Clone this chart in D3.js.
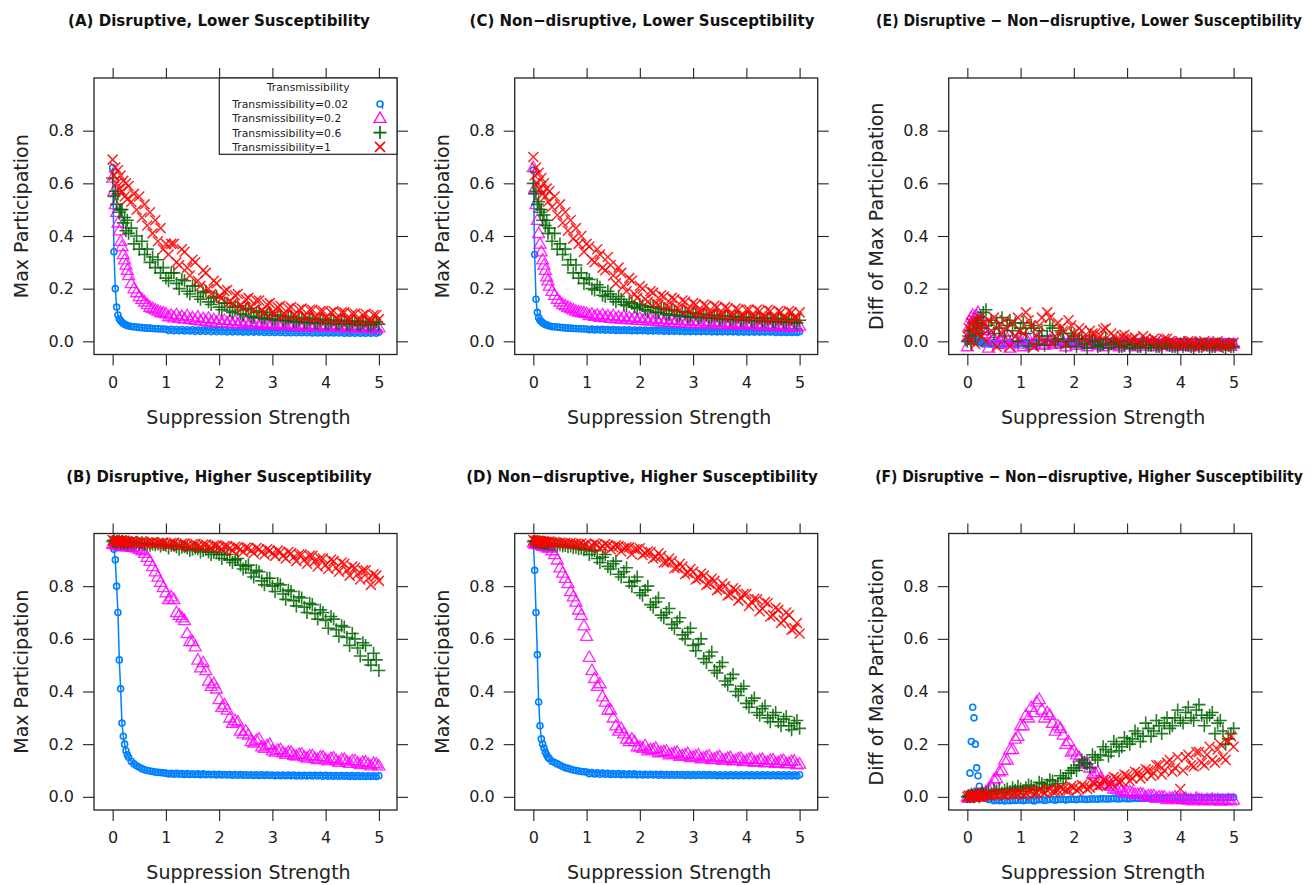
<!DOCTYPE html>
<meta charset="utf-8">
<title>Max Participation vs Suppression Strength</title>
<script src="https://d3js.org/d3.v7.min.js"></script>
<style>
  body { margin: 0; background: #fff; }
  text { font-family: "DejaVu Sans", Verdana, sans-serif; fill: #222; }
  text.title { font-weight: bold; font-size: 16px; fill: #111; }
  text.axlab { font-size: 19px; }
  text.legend { font-size: 10.8px; }
</style>
<div id="chart"></div>
<script>

// suppression strength grid (x) for the first run, finer near zero
var suppression = [0,.025,.05,.075,.1,.125,.15,.175,.2,.225,.25,.275,.3,
  .35,.4,.45,.5,.55,.6,.65,.7,.75,.8,.85,.9,.95,1,
  1.1,1.2,1.3,1.4,1.5,1.6,1.7,1.8,1.9,2,
  2.1,2.2,2.3,2.4,2.5,2.6,2.7,2.8,2.9,3,
  3.1,3.2,3.3,3.4,3.5,3.6,3.7,3.8,3.9,4,
  4.1,4.2,4.3,4.4,4.5,4.6,4.7,4.8,4.9,5];
// second run, in between the first run's steps
var suppressionMid = [1.05,1.15,1.25,1.35,1.45,1.55,1.65,1.75,1.85,1.95,
  2.05,2.15,2.25,2.35,2.45,2.55,2.65,2.75,2.85,2.95,
  3.05,3.15,3.25,3.35,3.45,3.55,3.65,3.75,3.85,3.95,
  4.05,4.15,4.25,4.35,4.45,4.55,4.65,4.75,4.85,4.95];

var xTicks = [0,1,2,3,4,5];
var yTicks = [0,0.2,0.4,0.6,0.8];
var transLabels = ["Transmissibility=0.02","Transmissibility=0.2","Transmissibility=0.6","Transmissibility=1"];
var titles = ["(A) Disruptive, Lower Susceptibility",
              "(C) Non\u2212disruptive, Lower Susceptibility",
              "(E) Disruptive \u2212 Non\u2212disruptive, Lower Susceptibility",
              "(B) Disruptive, Higher Susceptibility",
              "(D) Non\u2212disruptive, Higher Susceptibility",
              "(F) Disruptive \u2212 Non\u2212disruptive, Higher Susceptibility"];

// (A) disruptive, lower susceptibility
var blueA = [.66,.34,.20,.13,.10,.085,.078,.072,.068,.065,.062,.060,.058,
  .056,.055,.054,.053,.052,.051,.050,.050,.049,.048,.048,.047,.047,.046,
  .046,.045,.045,.044,.044,.043,.043,.043,.042,.042,
  .042,.041,.041,.041,.040,.040,.040,.040,.039,.039,
  .039,.039,.038,.038,.038,.038,.038,.037,.037,.037,
  .037,.037,.037,.036,.036,.036,.036,.036,.036,.035];
var magentaA = [.62,.57,.52,.49,.45,.42,.38,.36,.33,.31,.29,.27,.25,
  .22,.20,.185,.17,.16,.15,.14,.13,.125,.12,.115,.11,.108,.105,
  .10,.102,.095,.098,.09,.093,.087,.088,.083,.082,
  .08,.079,.077,.076,.074,.073,.072,.070,.069,.068,
  .067,.066,.066,.064,.064,.063,.062,.062,.061,.060,
  .060,.059,.058,.058,.057,.056,.056,.055,.054,.052];
var greenA = [.62,.55,.57,.52,.56,.49,.50,.50,.45,.47,.42,.46,.41,
  .43,.37,.40,.35,.38,.33,.35,.30,.32,.28,.31,.26,.28,.24,
  .26,.22,.235,.19,.21,.17,.185,.15,.165,.13,
  .145,.115,.13,.105,.12,.095,.11,.09,.10,.085,
  .095,.08,.09,.075,.085,.072,.083,.07,.08,.068,
  .078,.067,.076,.065,.074,.064,.072,.062,.070,.065];
var redA = [.69,.63,.66,.60,.65,.58,.63,.57,.61,.55,.60,.54,.59,
  .53,.56,.50,.55,.47,.52,.44,.49,.41,.46,.38,.43,.35,.37,
  .37,.30,.35,.28,.31,.23,.27,.20,.23,.17,
  .19,.15,.175,.135,.16,.13,.155,.115,.14,.11,
  .13,.10,.125,.10,.12,.095,.12,.09,.115,.09,
  .11,.085,.11,.085,.105,.085,.10,.08,.10,.085];
var blueA2 = [.041,.040,.040,.039,.039,.038,.038,.038,.037,.037,
  .037,.036,.036,.036,.035,.035,.035,.035,.034,.034,
  .034,.034,.033,.033,.033,.033,.033,.032,.032,.032,
  .032,.032,.032,.031,.031,.031,.031,.031,.031,.031];
var magentaA2 = [.094,.09,.088,.085,.083,.08,.078,.076,.074,.072,
  .071,.07,.068,.067,.066,.065,.064,.063,.062,.061,
  .06,.06,.059,.058,.058,.057,.056,.056,.055,.055,
  .054,.054,.053,.053,.052,.052,.051,.051,.050,.048];
var greenA2 = [.23,.26,.20,.23,.18,.21,.16,.19,.14,.17,
  .12,.145,.11,.135,.10,.125,.09,.115,.085,.11,
  .08,.10,.078,.095,.075,.09,.072,.088,.07,.085,
  .068,.082,.067,.08,.065,.078,.063,.076,.062,.074];
var redA2 = [.33,.37,.29,.34,.25,.30,.21,.26,.18,.22,
  .165,.195,.145,.18,.13,.165,.12,.155,.11,.145,
  .105,.135,.10,.13,.095,.125,.09,.12,.085,.115,
  .085,.115,.08,.11,.08,.105,.075,.105,.075,.10];

// (C) non-disruptive, lower susceptibility
var blueC = [.65,.33,.16,.11,.09,.08,.075,.07,.067,.064,.062,.06,.058,
  .056,.055,.054,.053,.052,.051,.05,.05,.049,.049,.048,.048,.047,.047,
  .047,.046,.046,.045,.045,.044,.044,.044,.043,.043,
  .043,.042,.042,.042,.041,.041,.041,.041,.040,.040,
  .040,.040,.040,.039,.039,.039,.039,.039,.038,.038,
  .038,.038,.038,.038,.038,.037,.037,.037,.037,.037];
var magentaC = [.66,.58,.52,.46,.41,.37,.34,.31,.29,.27,.245,.23,.21,
  .19,.175,.16,.15,.14,.135,.13,.125,.12,.115,.112,.11,.108,.106,
  .104,.10,.101,.096,.098,.093,.095,.09,.092,.088,
  .089,.085,.087,.083,.084,.080,.082,.078,.079,.076,
  .077,.075,.075,.073,.073,.071,.071,.069,.07,.068,
  .068,.066,.066,.064,.064,.062,.062,.060,.060,.058];
var greenC = [.60,.56,.57,.52,.53,.49,.50,.46,.48,.44,.46,.41,.43,
  .38,.41,.35,.37,.33,.35,.29,.31,.26,.29,.24,.26,.22,.24,
  .20,.215,.175,.19,.16,.17,.14,.15,.13,.14,
  .12,.13,.11,.125,.105,.12,.10,.113,.095,.108,
  .092,.104,.09,.10,.085,.097,.083,.094,.08,.092,
  .078,.09,.077,.088,.075,.087,.074,.085,.072,.08];
var redC = [.70,.63,.66,.60,.64,.58,.62,.56,.60,.55,.58,.53,.57,
  .51,.55,.48,.52,.45,.49,.42,.46,.39,.43,.37,.40,.34,.37,
  .31,.35,.28,.32,.25,.28,.21,.24,.18,.21,
  .16,.19,.145,.175,.135,.165,.125,.155,.12,.145,
  .11,.14,.105,.135,.10,.13,.10,.125,.095,.12,
  .095,.12,.09,.12,.09,.115,.09,.115,.09,.11];
var blueC2 = [.044,.043,.043,.042,.042,.041,.041,.041,.040,.040,
  .040,.039,.039,.039,.038,.038,.038,.038,.037,.037,
  .037,.037,.037,.036,.036,.036,.036,.036,.035,.035,
  .035,.035,.035,.035,.035,.034,.034,.034,.034,.034];
var magentaC2 = [.098,.095,.092,.09,.088,.086,.085,.083,.082,.08,
  .079,.078,.077,.075,.074,.073,.072,.071,.07,.069,
  .068,.067,.066,.066,.065,.064,.063,.063,.062,.061,
  .061,.06,.059,.058,.058,.057,.056,.056,.055,.054];
var greenC2 = [.235,.195,.205,.17,.18,.15,.16,.135,.145,.125,
  .135,.115,.13,.11,.12,.10,.115,.095,.11,.092,
  .105,.09,.10,.088,.097,.085,.095,.083,.092,.08,
  .09,.078,.088,.076,.087,.074,.085,.072,.083,.07];
var redC2 = [.36,.30,.33,.27,.29,.22,.26,.19,.23,.165,
  .20,.15,.185,.14,.17,.13,.16,.12,.15,.115,
  .14,.11,.135,.105,.13,.10,.125,.095,.12,.095,
  .12,.095,.115,.09,.115,.09,.11,.085,.11,.09];

// (E) difference, lower susceptibility
var blueE = [0,.01,.03,.02,.015,.01,.005,0,0,-.005,0,-.005,-.01,
  -.005,-.01,-.01,-.005,-.01,-.01,-.015,-.01,-.01,-.005,-.01,-.01,-.008,-.006,
  -.006,-.005,-.007,-.004,-.005,-.004,-.006,-.003,-.004,-.003,
  -.004,-.002,-.003,-.002,-.004,-.002,-.003,-.002,-.003,-.002,
  -.003,-.002,-.003,-.002,-.002,-.003,-.002,-.002,-.003,-.002,
  -.002,-.003,-.002,-.002,-.003,-.002,-.002,-.003,-.002,-.002];
var magentaE = [-.02,.02,.06,.09,.10,.08,.095,.10,.11,.07,.08,.05,.04,
  .03,-.025,.02,.01,.03,-.01,.02,0,.01,-.025,.01,0,.015,-.01,
  .01,-.015,.005,-.01,0,.005,-.01,0,-.005,0,
  -.01,0,-.01,-.005,-.01,-.005,-.01,-.01,-.005,-.01,
  -.01,-.012,-.008,-.01,-.012,-.01,-.013,-.01,-.012,-.011,
  -.012,-.013,-.01,-.012,-.013,-.011,-.012,-.013,-.012,-.01];
var greenE = [0,.02,.04,-.01,.05,.07,.02,.06,.08,.03,.09,.05,.11,
  .12,.06,.08,.03,.07,.05,.09,.02,.06,.08,.04,.07,0,.05,
  .03,.06,-.01,.04,.02,.05,.01,.03,0,.02,
  .01,-.01,.02,0,-.015,.01,-.01,0,-.02,0,
  -.01,-.02,0,-.015,-.01,-.02,-.005,-.015,-.02,-.01,
  -.015,-.02,-.01,-.02,-.015,-.02,-.01,-.02,-.015,-.02];
var redE = [.02,.05,0,.07,.04,.08,-.01,.06,.03,.09,.05,.02,.07,
  0,.08,.04,.09,-.02,.06,.03,.08,.05,-.02,.07,.02,.09,.04,
  .11,.06,.02,.09,.11,-.01,.07,.04,.08,.03,
  .05,.01,.04,.03,.02,.05,.03,.01,.02,.01,
  .01,0,.02,0,.01,-.005,.01,0,-.01,0,
  -.01,0,-.01,-.005,-.01,-.01,0,-.01,-.01,-.005];
var blueE2 = [-.004,-.006,-.003,-.005,-.003,-.004,-.002,-.004,-.002,-.003,
  -.003,-.002,-.004,-.002,-.003,-.002,-.003,-.002,-.003,-.002,
  -.002,-.003,-.002,-.003,-.002,-.002,-.003,-.002,-.002,-.003,
  -.002,-.002,-.003,-.002,-.002,-.003,-.002,-.002,-.003,-.002];
var magentaE2 = [-.02,.01,-.01,.02,-.015,.005,-.01,.01,-.02,0,
  -.015,-.005,-.02,-.01,-.015,-.02,-.01,-.015,-.02,-.01,
  -.015,-.02,-.012,-.018,-.01,-.02,-.015,-.012,-.02,-.015,
  -.018,-.012,-.02,-.015,-.012,-.018,-.02,-.015,-.012,-.018];
var greenE2 = [.07,-.02,.05,.02,-.015,.06,0,.04,-.02,.03,
  -.02,.01,-.025,0,-.02,-.01,-.025,-.005,-.02,-.015,
  -.025,-.01,-.02,-.025,-.015,-.02,-.025,-.01,-.02,-.025,
  -.02,-.015,-.025,-.02,-.01,-.025,-.02,-.015,-.025,-.02];
var redE2 = [.03,.08,-.02,.06,0,.09,.02,.05,-.01,.06,
  .02,.04,0,.03,.01,.045,0,.02,-.01,.025,
  0,.015,-.01,.01,0,.005,-.015,.01,-.005,-.01,
  -.015,0,-.01,-.02,0,-.015,-.005,-.015,-.02,-.01];

// (B) disruptive, higher susceptibility
var blueB = [.965,.94,.90,.80,.70,.52,.41,.28,.23,.20,.175,.16,.15,
  .135,.125,.118,.112,.107,.103,.10,.098,.096,.094,.093,.092,.091,.09,
  .089,.089,.088,.088,.087,.087,.087,.086,.086,.086,
  .085,.085,.085,.085,.084,.084,.084,.084,.084,.083,
  .083,.083,.083,.083,.082,.082,.082,.082,.082,.082,
  .081,.081,.081,.081,.081,.081,.080,.080,.080,.080];
var magentaB = [.96,.958,.96,.955,.958,.955,.957,.952,.955,.95,.953,.95,.952,
  .948,.95,.945,.94,.935,.925,.91,.895,.875,.855,.835,.815,.795,.775,
  .76,.70,.68,.62,.59,.52,.51,.44,.43,.37,
  .35,.30,.29,.25,.25,.21,.215,.19,.195,.175,
  .178,.168,.17,.158,.162,.152,.156,.146,.152,.142,
  .146,.138,.142,.133,.137,.128,.132,.124,.128,.118];
var greenB = [.97,.975,.965,.97,.968,.972,.965,.97,.968,.966,.97,.963,.968,
  .965,.962,.967,.96,.965,.958,.962,.955,.96,.957,.96,.952,.958,.955,
  .955,.95,.948,.945,.94,.942,.935,.93,.928,.92,
  .92,.90,.90,.88,.875,.85,.86,.82,.83,.80,
  .81,.77,.785,.745,.76,.72,.735,.695,.71,.67,
  .685,.635,.65,.605,.62,.565,.585,.52,.545,.48];
var redB = [.975,.97,.972,.968,.974,.97,.966,.972,.968,.97,.965,.97,.967,
  .97,.965,.968,.964,.97,.962,.966,.964,.968,.96,.965,.962,.966,.96,
  .964,.958,.962,.955,.96,.953,.958,.95,.955,.948,
  .952,.944,.95,.94,.946,.935,.945,.93,.94,.925,
  .935,.915,.93,.91,.92,.90,.915,.895,.905,.88,
  .90,.87,.89,.86,.875,.845,.86,.83,.845,.82];
var blueB2 = [.087,.086,.086,.085,.085,.085,.084,.084,.084,.083,
  .083,.083,.082,.082,.082,.082,.081,.081,.081,.081,
  .08,.08,.08,.08,.079,.079,.079,.079,.079,.078,
  .078,.078,.078,.078,.077,.077,.077,.077,.077,.077];
var magentaB2 = [.75,.75,.69,.67,.59,.57,.49,.48,.42,.41,
  .34,.33,.28,.285,.24,.235,.205,.22,.185,.2,
  .17,.18,.162,.17,.155,.163,.148,.157,.142,.152,
  .137,.148,.132,.143,.128,.138,.123,.133,.118,.125];
var greenB2 = [.945,.955,.94,.95,.935,.945,.93,.94,.92,.93,
  .905,.92,.89,.905,.865,.88,.835,.855,.805,.83,
  .78,.805,.75,.78,.725,.755,.70,.73,.675,.70,
  .64,.675,.61,.645,.575,.60,.535,.575,.50,.52];
var redB2 = [.955,.965,.952,.962,.95,.96,.948,.958,.945,.955,
  .94,.952,.935,.948,.93,.945,.925,.94,.92,.935,
  .915,.93,.905,.925,.895,.92,.885,.915,.875,.905,
  .865,.895,.855,.885,.84,.87,.825,.86,.805,.84];

// (D) non-disruptive, higher susceptibility
var blueD = [.965,.86,.70,.54,.36,.27,.22,.20,.185,.17,.16,.15,.145,
  .135,.13,.125,.12,.115,.11,.108,.105,.102,.10,.098,.096,.095,.094,
  .092,.091,.09,.089,.088,.088,.087,.087,.087,.086,
  .086,.086,.086,.086,.085,.085,.085,.085,.085,.085,
  .085,.085,.085,.084,.084,.084,.084,.084,.084,.084,
  .084,.084,.084,.084,.084,.084,.084,.084,.084,.084];
var magentaD = [.965,.96,.962,.958,.96,.956,.958,.952,.955,.95,.952,.946,.945,
  .935,.92,.90,.87,.85,.83,.81,.78,.76,.74,.71,.69,.65,.61,
  .48,.42,.38,.33,.30,.25,.24,.21,.21,.19,
  .195,.18,.185,.17,.175,.163,.17,.157,.165,.152,
  .16,.148,.156,.144,.153,.141,.15,.139,.147,.137,
  .145,.134,.143,.132,.141,.13,.139,.128,.137,.125];
var greenD = [.97,.972,.968,.97,.966,.968,.965,.967,.963,.965,.962,.964,.96,
  .958,.96,.955,.957,.952,.954,.95,.952,.946,.948,.942,.944,.938,.94,
  .935,.905,.91,.875,.885,.845,.855,.815,.82,.775,
  .785,.73,.74,.69,.70,.655,.665,.615,.625,.575,
  .58,.525,.535,.48,.495,.44,.45,.40,.41,.355,
  .365,.32,.335,.30,.31,.285,.295,.27,.28,.26];
var redD = [.975,.97,.972,.968,.972,.968,.97,.966,.97,.965,.968,.966,.97,
  .965,.968,.964,.966,.962,.965,.96,.964,.96,.962,.958,.962,.956,.96,
  .955,.958,.952,.955,.948,.952,.944,.948,.94,.944,
  .925,.93,.91,.915,.89,.895,.87,.875,.85,.855,
  .83,.84,.81,.82,.79,.80,.77,.785,.755,.77,
  .74,.75,.715,.735,.69,.71,.67,.69,.64,.62];
var blueD2 = [.088,.087,.086,.086,.085,.085,.084,.084,.084,.083,
  .083,.083,.083,.082,.082,.082,.082,.082,.081,.081,
  .081,.081,.081,.081,.08,.08,.08,.08,.08,.08,
  .08,.08,.08,.08,.08,.08,.079,.079,.079,.079];
var magentaD2 = [.53,.45,.43,.36,.33,.27,.26,.22,.22,.19,
  .185,.175,.18,.168,.172,.16,.166,.154,.16,.15,
  .155,.145,.152,.142,.15,.14,.147,.137,.145,.134,
  .143,.132,.141,.13,.139,.128,.137,.126,.135,.122];
var greenD2 = [.92,.935,.89,.92,.865,.895,.835,.87,.80,.835,
  .765,.80,.72,.755,.68,.715,.64,.68,.60,.64,
  .555,.60,.51,.55,.47,.51,.425,.465,.385,.42,
  .34,.375,.31,.345,.285,.32,.27,.305,.255,.29];
var redD2 = [.947,.962,.943,.96,.94,.955,.932,.948,.922,.94,
  .918,.932,.905,.925,.89,.905,.868,.885,.845,.865,
  .825,.848,.805,.828,.785,.81,.765,.792,.745,.77,
  .725,.752,.705,.74,.685,.718,.66,.70,.635,.66];

// (F) difference, higher susceptibility
var blueF = [0,.01,.09,.21,.34,.30,.20,.11,.08,.04,.02,.01,0,
  -.005,-.01,-.01,-.015,-.012,-.015,-.013,-.016,-.014,-.015,-.013,-.014,-.012,-.013,
  -.012,-.011,-.012,-.01,-.011,-.01,-.01,-.009,-.01,-.009,
  -.008,-.009,-.008,-.008,-.007,-.008,-.007,-.007,-.006,-.007,
  -.006,-.006,-.005,-.006,-.005,-.005,-.004,-.005,-.004,-.004,
  -.004,-.004,-.003,-.004,-.003,-.003,-.003,-.003,-.002,-.002];
var magentaF = [0,-.005,0,.005,0,.01,.005,.01,0,.01,.005,.015,.01,
  .02,.03,.04,.065,.07,.095,.10,.14,.14,.18,.18,.22,.23,.27,
  .31,.34,.36,.33,.32,.28,.27,.235,.21,.175,
  .15,.13,.11,.09,.07,.05,.04,.03,.025,.02,
  .015,.01,.01,.005,.005,0,0,-.005,0,-.005,
  -.005,-.01,-.005,-.01,-.01,-.008,-.01,-.012,-.01,-.012];
var greenF = [0,.005,0,.01,.005,0,.01,.005,.01,0,.01,.015,.01,
  .015,.02,.01,.025,.02,.03,.015,.025,.03,.02,.035,.025,.04,.03,
  .035,.04,.03,.05,.045,.06,.05,.07,.09,.11,
  .12,.13,.11,.15,.16,.18,.17,.2,.19,.21,
  .22,.24,.23,.26,.25,.27,.28,.26,.30,.29,
  .32,.30,.33,.31,.30,.32,.28,.25,.22,.26];
var redF = [0,.005,0,0,.005,0,.005,0,.005,0,0,.005,.005,
  .005,.01,.005,.01,.005,.01,.01,.005,.01,.015,.01,.015,.01,.015,
  .015,.02,.015,.02,.025,.02,.025,.03,.025,.035,
  .03,.04,.035,.05,.045,.06,.05,.07,.06,.08,
  .07,.09,.08,.10,.09,.12,.10,.14,.11,.03,
  .15,.12,.17,.13,.16,.14,.18,.15,.21,.19];
var blueF2 = [-.015,-.012,-.016,-.011,-.014,-.01,-.013,-.01,-.012,-.009,
  -.011,-.008,-.01,-.008,-.009,-.007,-.008,-.006,-.008,-.006,
  -.007,-.005,-.006,-.005,-.006,-.004,-.005,-.004,-.005,-.003,
  -.004,-.003,-.004,-.003,-.003,-.002,-.003,-.002,-.003,-.002];
var magentaF2 = [.27,.30,.32,.37,.30,.31,.25,.26,.20,.17,
  .16,.125,.13,.085,.095,.045,.06,.03,.035,.015,
  .02,.01,.012,0,.005,-.005,0,-.01,-.005,-.01,
  -.01,-.012,-.015,-.01,-.014,-.015,-.012,-.016,-.014,-.015];
var greenF2 = [.02,.045,.025,.055,.035,.065,.04,.08,.07,.10,
  .10,.14,.125,.16,.14,.19,.155,.21,.175,.225,
  .20,.25,.21,.28,.23,.29,.24,.30,.27,.33,
  .28,.34,.29,.35,.27,.31,.24,.29,.20,.24];
var redF2 = [.005,.02,.01,.025,.015,.03,.02,.035,.025,.04,
  .025,.045,.03,.055,.04,.065,.045,.075,.055,.085,
  .06,.095,.07,.105,.08,.12,.085,.13,.095,.15,
  .10,.16,.115,.17,.12,.19,.13,.20,.14,.23];

// ---- layout ----
var width = 1313, height = 885;
var colLeft = [94, 514.7, 948.7], rowTop = [78, 533.5];
var panelW = 303, panelH = 276.5;
var titleCenter = [219, 642, 1089];
var titleWidth = [[302, 345, 426], [306, 352, 428]];

var colors = ["#0080ff", "#ff00ff", "#006400", "#ff0000"];

// R-like open symbols
var circleSym = {draw: function(ctx, size) { var r = Math.sqrt(size); ctx.moveTo(r, 0); ctx.arc(0, 0, r, 0, 2 * Math.PI); }};
var triSym = {draw: function(ctx, size) {
  var r = Math.sqrt(size), h = r * Math.sqrt(3);
  ctx.moveTo(0, -h * 0.6); ctx.lineTo(r, h * 0.4); ctx.lineTo(-r, h * 0.4); ctx.closePath(); }};
var plusSym = {draw: function(ctx, size) {
  var r = Math.sqrt(size);
  ctx.moveTo(-r, 0); ctx.lineTo(r, 0); ctx.moveTo(0, -r); ctx.lineTo(0, r); }};
var timesSym = {draw: function(ctx, size) {
  var r = Math.sqrt(size);
  ctx.moveTo(-r, -r); ctx.lineTo(r, r); ctx.moveTo(-r, r); ctx.lineTo(r, -r); }};

var symbols = [
  {type: circleSym, size: 9,  sw: 1.6, op: 1},
  {type: triSym,    size: 36, sw: 1.3, op: 0.85},
  {type: plusSym,   size: 42, sw: 1.6, op: 0.85},
  {type: timesSym,  size: 25, sw: 1.5, op: 0.85}
];

var panels = [
  {row: 0, col: 0, title: titles[0], ylab: "Max Participation",
   series: [blueA, magentaA, greenA, redA], series2: [blueA2, magentaA2, greenA2, redA2], line: true, legend: true},
  {row: 0, col: 1, title: titles[1], ylab: "Max Participation",
   series: [blueC, magentaC, greenC, redC], series2: [blueC2, magentaC2, greenC2, redC2], line: true},
  {row: 0, col: 2, title: titles[2], ylab: "Diff of Max Participation",
   series: [blueE, magentaE, greenE, redE], series2: [blueE2, magentaE2, greenE2, redE2], line: false},
  {row: 1, col: 0, title: titles[3], ylab: "Max Participation",
   series: [blueB, magentaB, greenB, redB], series2: [blueB2, magentaB2, greenB2, redB2], line: true},
  {row: 1, col: 1, title: titles[4], ylab: "Max Participation",
   series: [blueD, magentaD, greenD, redD], series2: [blueD2, magentaD2, greenD2, redD2], line: true},
  {row: 1, col: 2, title: titles[5], ylab: "Diff of Max Participation",
   series: [blueF, magentaF, greenF, redF], series2: [blueF2, magentaF2, greenF2, redF2], line: false}
];

var svg = d3.select("#chart").append("svg")
  .attr("width", width)
  .attr("height", height);

var x = d3.scaleLinear().domain([-0.35, 5.34]).range([0, panelW]);
var y = d3.scaleLinear().domain([-0.05, 1.0]).range([panelH, 0]);

panels.forEach(function(p) {
  var left = colLeft[p.col], top = rowTop[p.row];

  // title: bold text squeezed horizontally to the width used in the figure
  var tg = svg.append("g");
  var t = tg.append("text")
    .attr("class", "title")
    .attr("text-anchor", "middle")
    .text(p.title);
  var natural = t.node().getComputedTextLength();
  var sx = titleWidth[p.row][p.col] / natural;
  tg.attr("transform", "translate(" + titleCenter[p.col] + "," + (p.row == 0 ? 26 : 482) + ") scale(" + sx + ",1)");

  var g = svg.append("g").attr("transform", "translate(" + left + "," + top + ")");

  // axes on all four sides, ticks outward
  var axL = g.append("g").call(d3.axisLeft(y).tickValues(yTicks).tickSize(11).tickPadding(9).tickFormat(d3.format(".1f")));
  var axR = g.append("g").attr("transform", "translate(" + panelW + ",0)")
    .call(d3.axisRight(y).tickValues(yTicks).tickSize(11).tickFormat(""));
  var axB = g.append("g").attr("transform", "translate(0," + panelH + ")")
    .call(d3.axisBottom(x).tickValues(xTicks).tickSize(11).tickPadding(11).tickFormat(d3.format("d")));
  var axT = g.append("g").call(d3.axisTop(x).tickValues(xTicks).tickSize(10).tickFormat(""));
  [axL, axR, axB, axT].forEach(function(a) {
    a.attr("font-size", 16).attr("font-family", "DejaVu Sans, sans-serif").style("color", "#222");
    a.select(".domain").remove();
    a.selectAll(".tick line").attr("stroke", "#222").attr("stroke-width", 1.1);
  });

  // blue line through the circles
  if (p.line) {
    g.append("path")
      .datum(p.series[0])
      .attr("fill", "none")
      .attr("stroke", colors[0])
      .attr("stroke-width", 1.5)
      .attr("d", d3.line().x(function(d, i) { return x(suppression[i]); }).y(function(d) { return y(d); }));
  }

  // points: both runs of each transmissibility, blue first, red on top
  p.series.forEach(function(vals, k) {
    var s = symbols[k];
    var sym = d3.symbol().type(s.type).size(s.size);
    var runs = [[vals, suppression], [p.series2[k], suppressionMid]];
    runs.forEach(function(run) {
      g.append("g")
        .selectAll("path")
        .data(run[0])
        .enter().append("path")
          .attr("transform", function(d, i) { return "translate(" + x(run[1][i]) + "," + y(d) + ")"; })
          .attr("d", sym)
          .attr("fill", "none")
          .attr("stroke", colors[k])
          .attr("stroke-width", s.sw)
          .attr("stroke-opacity", s.op);
    });
  });

  // panel box
  g.append("rect")
    .attr("width", panelW)
    .attr("height", panelH)
    .attr("fill", "none")
    .attr("stroke", "#222")
    .attr("stroke-width", 1.3);

  // axis labels
  g.append("text")
    .attr("class", "axlab")
    .attr("x", panelW / 2 + 3)
    .attr("y", panelH + 69)
    .attr("text-anchor", "middle")
    .text("Suppression Strength");

  g.append("text")
    .attr("class", "axlab")
    .attr("transform", "translate(-66," + (panelH / 2) + ") rotate(-90)")
    .attr("text-anchor", "middle")
    .text(p.ylab);

  // legend (panel A only)
  if (p.legend) {
    var lx = 125.3, lw = panelW - lx, lh = 76.3;
    var lg = g.append("g");
    lg.append("rect")
      .attr("x", lx).attr("y", 0).attr("width", lw).attr("height", lh)
      .attr("fill", "#fff").attr("stroke", "#222").attr("stroke-width", 1.2);
    lg.append("text")
      .attr("class", "legend")
      .attr("x", lx + lw / 2)
      .attr("y", 13)
      .attr("text-anchor", "middle")
      .text("Transmissibility");
    var rows = lg.selectAll("g.row")
      .data(transLabels)
      .enter().append("g")
        .attr("class", "row")
        .attr("transform", function(d, i) { return "translate(0," + (26 + i * 14.3) + ")"; });
    rows.append("text")
      .attr("class", "legend")
      .attr("x", 138.3)
      .attr("y", 4)
      .text(function(d) { return d; });
    rows.append("path")
      .attr("transform", "translate(286,0)")
      .attr("d", function(d, i) { return d3.symbol().type(symbols[i].type).size(symbols[i].size)(); })
      .attr("fill", "none")
      .attr("stroke", function(d, i) { return colors[i]; })
      .attr("stroke-width", function(d, i) { return symbols[i].sw; });
    // little tail of the blue line on the circle key
    lg.append("line")
      .attr("x1", 288.5).attr("x2", 288.5).attr("y1", 23).attr("y2", 31)
      .attr("stroke", colors[0]).attr("stroke-width", 1.4);
  }
});

</script>
